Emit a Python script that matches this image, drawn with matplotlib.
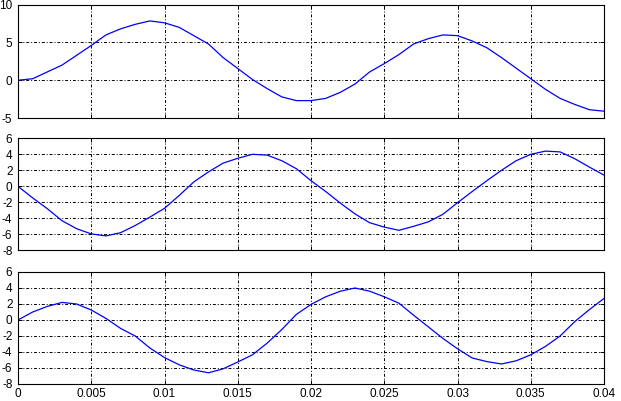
import numpy as np
import matplotlib
matplotlib.use("Agg")
import matplotlib.pyplot as plt
from matplotlib import font_manager

t = np.arange(41) * 0.001

top = [0, 0.2, 1.1, 2.0, 3.3, 4.6, 6.0, 6.8, 7.4, 7.85,
       7.6, 7.0, 5.9, 4.8, 3.0, 1.55, 0.1, -1.1, -2.2, -2.7,
       -2.7, -2.4, -1.6, -0.5, 1.1, 2.2, 3.4, 4.8, 5.5, 6.0,
       5.9, 5.2, 4.3, 3.0, 1.6, 0.2, -1.2, -2.4, -3.2, -3.9, -4.1]

mid = [0, -1.45, -2.8, -4.3, -5.3, -5.95, -6.2, -5.8, -4.9, -3.85,
       -2.75, -1.15, 0.55, 1.8, 2.9, 3.5, 4.0, 3.9, 3.2, 2.2,
       0.7, -0.65, -2.1, -3.45, -4.55, -5.1, -5.5, -5.0, -4.45, -3.5,
       -2.05, -0.65, 0.7, 2.0, 3.2, 4.0, 4.4, 4.3, 3.45, 2.4, 1.4]

bot = [0, 1.0, 1.7, 2.2, 2.0, 1.25, 0.2, -1.05, -2.0, -3.5,
       -4.7, -5.6, -6.25, -6.6, -6.1, -5.25, -4.35, -2.9, -1.2, 0.7,
       1.95, 2.9, 3.6, 4.0, 3.6, 2.9, 2.1, 0.6, -0.85, -2.3,
       -3.6, -4.75, -5.2, -5.5, -5.1, -4.35, -3.3, -2.0, -0.2, 1.3, 2.7]

xticks = [0, 0.005, 0.01, 0.015, 0.02, 0.025, 0.03, 0.035, 0.04]
xlabels = ["0", "0.005", "0.01", "0.015", "0.02", "0.025", "0.03", "0.035", "0.04"]

# narrow sans if we have it
names = {f.name for f in font_manager.fontManager.ttflist}
fam = "Liberation Sans Narrow" if "Liberation Sans Narrow" in names else "Liberation Sans"
plt.rcParams["font.family"] = [fam, "DejaVu Sans"]
plt.rcParams["axes.unicode_minus"] = False

fig = plt.figure(figsize=(6.21, 4.01), dpi=100)

panels = [
    (top, [0.029, 0.7057, 0.9437, 0.2826], (-5, 10), [-5, 0, 5, 10]),
    (mid, [0.029, 0.3758, 0.9437, 0.2793], (-8, 6), [-8, -6, -4, -2, 0, 2, 4, 6]),
    (bot, [0.029, 0.0424, 0.9437, 0.2793], (-8, 6), [-8, -6, -4, -2, 0, 2, 4, 6]),
]

for k, (y, rect, ylim, yt) in enumerate(panels):
    ax = fig.add_axes(rect)
    ax.plot(t, y, color="blue", lw=0.9)
    ax.set_xlim(0, 0.04)
    ax.set_ylim(*ylim)
    ax.set_yticks(yt)
    ax.set_xticks(xticks)
    if k == 2:
        ax.set_xticklabels(xlabels)
    else:
        ax.set_xticklabels([])
    ax.grid(True, color="black", lw=0.7, linestyle=(0, (3, 2, 1, 2)))
    ax.tick_params(direction="in", length=3, width=0.7, labelsize=8.5,
                   top=True, right=True, colors="black")
    ax.tick_params(axis="y", pad=4)
    ax.tick_params(axis="x", pad=3)
    for s in ax.spines.values():
        s.set_linewidth(0.8)

plt.savefig("out.png", dpi=100)
